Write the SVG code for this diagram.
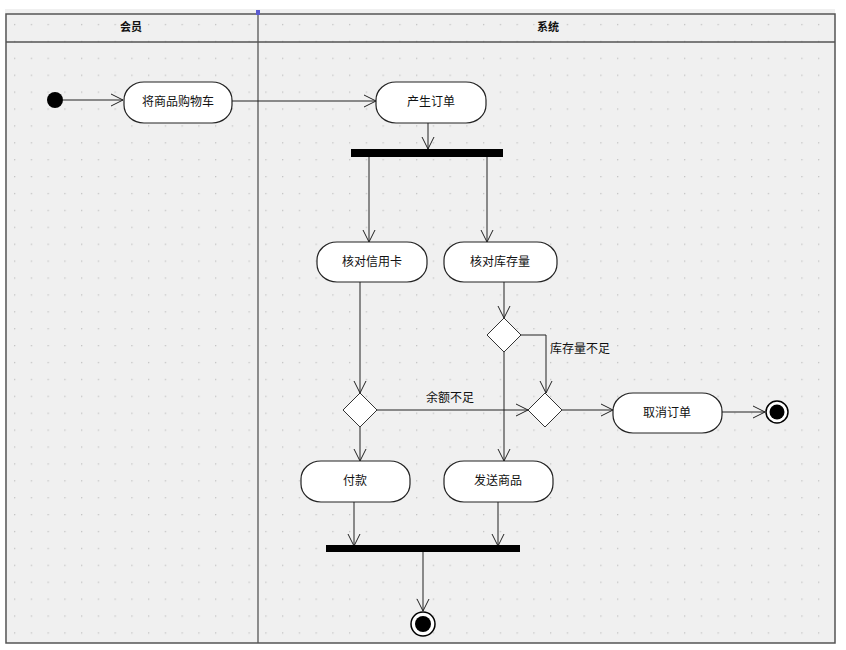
<svg xmlns="http://www.w3.org/2000/svg" width="846" height="650" viewBox="0 0 846 650">
<defs>
<pattern id="dots" x="14" y="7" width="16.75" height="16.9" patternUnits="userSpaceOnUse">
<rect x="0" y="0" width="1.3" height="1.3" fill="#c4c4c4"/>
</pattern>
<marker id="arr" viewBox="-14 -8 16 16" refX="0" refY="0" markerWidth="16" markerHeight="16" markerUnits="userSpaceOnUse" orient="auto">
<path d="M-12,-6 L0,0 L-12,6" fill="none" stroke="#222" stroke-width="1"/>
</marker>
</defs>
<style>
.act{fill:#fff;stroke:#222;stroke-width:1.2}
.lbl{font-family:"Noto Sans CJK SC","Noto Sans",sans-serif;font-size:12px;fill:#111;text-anchor:middle}
.hdr{font-family:"Noto Sans CJK SC","Noto Sans",sans-serif;font-size:11px;font-weight:bold;fill:#111;text-anchor:middle}
.ln{fill:none;stroke:#222;stroke-width:1}
.dia{fill:#fff;stroke:#333;stroke-width:1}
.bar{fill:#000}
</style>
<rect x="0" y="0" width="846" height="650" fill="#fff"/>
<rect x="5" y="9" width="830" height="634" fill="#f0f0f0"/>
<rect x="5" y="9" width="830" height="634" fill="url(#dots)"/>
<g id="lanes">
<rect x="6" y="14" width="829" height="629" fill="none" stroke="#555" stroke-width="1.5"/>
<line x1="6" y1="42" x2="835" y2="42" stroke="#555" stroke-width="1.5"/>
<line x1="258" y1="10" x2="258" y2="643" stroke="#555" stroke-width="1.3"/>
<rect x="256" y="10" width="4" height="5" fill="#5a5ad0"/>
<text class="hdr" x="131" y="31">会员</text>
<text class="hdr" x="548" y="31">系统</text>
</g>
<g id="connectors">
<line class="ln" x1="63" y1="100" x2="123" y2="100" marker-end="url(#arr)"/>
<line class="ln" x1="232" y1="101" x2="376" y2="101" marker-end="url(#arr)"/>
<line class="ln" x1="428" y1="123" x2="428" y2="149" marker-end="url(#arr)"/>
<line class="ln" x1="369" y1="157" x2="369" y2="242" marker-end="url(#arr)"/>
<line class="ln" x1="487" y1="157" x2="487" y2="242" marker-end="url(#arr)"/>
<line class="ln" x1="360" y1="282" x2="360" y2="393" marker-end="url(#arr)"/>
<line class="ln" x1="504" y1="282" x2="504" y2="318" marker-end="url(#arr)"/>
<line class="ln" x1="377" y1="410" x2="528" y2="410" marker-end="url(#arr)"/>
<polyline class="ln" points="521,335 546,335 546,393" marker-end="url(#arr)"/>
<line class="ln" x1="360" y1="427" x2="360" y2="461" marker-end="url(#arr)"/>
<line class="ln" x1="504" y1="352" x2="504" y2="461" marker-end="url(#arr)"/>
<line class="ln" x1="562" y1="410" x2="613" y2="410" marker-end="url(#arr)"/>
<line class="ln" x1="722" y1="412" x2="765" y2="412" marker-end="url(#arr)"/>
<line class="ln" x1="354" y1="502" x2="354" y2="546" marker-end="url(#arr)"/>
<line class="ln" x1="498" y1="502" x2="498" y2="546" marker-end="url(#arr)"/>
<line class="ln" x1="423" y1="552" x2="423" y2="611" marker-end="url(#arr)"/>
<text class="lbl" x="450" y="402">余额不足</text>
<text class="lbl" x="580" y="353">库存量不足</text>
</g>
<g id="start"><circle cx="55" cy="100" r="8" fill="#000"/></g>
<g id="n1"><rect class="act" x="124" y="82" width="108" height="41" rx="20" ry="18"/><text class="lbl" x="178" y="106">将商品购物车</text></g>
<g id="n2"><rect class="act" x="376" y="82" width="110" height="41" rx="20" ry="18"/><text class="lbl" x="431" y="106">产生订单</text></g>
<g id="fork"><rect class="bar" x="351" y="149" width="152" height="8"/></g>
<g id="n3"><rect class="act" x="317" y="242" width="110" height="40" rx="20" ry="18"/><text class="lbl" x="372" y="266">核对信用卡</text></g>
<g id="n4"><rect class="act" x="444" y="242" width="113" height="40" rx="20" ry="18"/><text class="lbl" x="500" y="266">核对库存量</text></g>
<g id="d3"><polygon class="dia" points="504,318 521,335 504,352 487,335"/></g>
<g id="d1"><polygon class="dia" points="360,393 377,410 360,427 343,410"/></g>
<g id="d2"><polygon class="dia" points="545,393 562,410 545,427 528,410"/></g>
<g id="n5"><rect class="act" x="613" y="393" width="109" height="40" rx="20" ry="18"/><text class="lbl" x="667" y="417">取消订单</text></g>
<g id="end1"><circle cx="777" cy="412" r="11" fill="#fff" stroke="#000" stroke-width="1.5"/><circle cx="777" cy="412" r="7.5" fill="#000"/></g>
<g id="n6"><rect class="act" x="301" y="461" width="109" height="41" rx="20" ry="18"/><text class="lbl" x="355" y="485">付款</text></g>
<g id="n7"><rect class="act" x="444" y="461" width="109" height="41" rx="20" ry="18"/><text class="lbl" x="498" y="485">发送商品</text></g>
<g id="join"><rect class="bar" x="326" y="545" width="194" height="7"/></g>
<g id="end2"><circle cx="423" cy="624" r="12" fill="#fff" stroke="#000" stroke-width="1.5"/><circle cx="423" cy="624" r="8" fill="#000"/></g>
</svg>
